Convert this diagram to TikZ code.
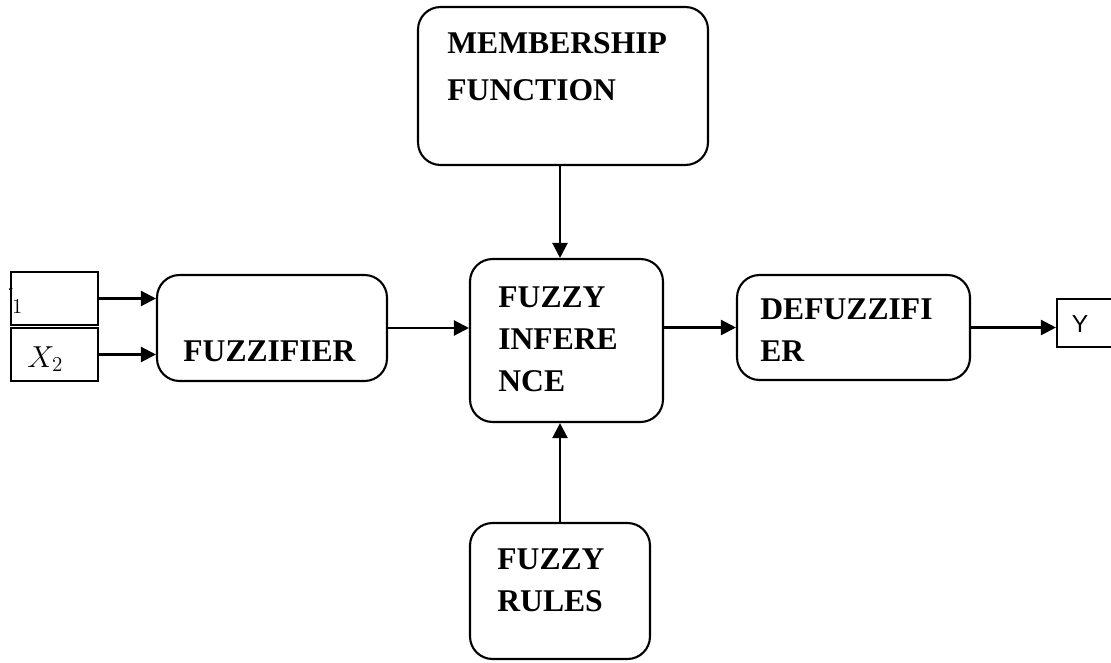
\documentclass[tikz,border=0pt]{standalone}
\usepackage{fontspec}
\setmainfont{Liberation Serif}
\newfontfamily\arialfont{Liberation Sans}
\usetikzlibrary{arrows.meta,positioning}
\tikzset{
  block/.style={draw, rounded corners=0.45cm, line width=1.2pt, inner sep=0pt},
  inbox/.style={draw, line width=1.2pt, minimum width=1.74cm, minimum height=1.06cm, inner sep=0pt},
  blocktext/.style={anchor=north west, inner sep=0pt, align=left, font=\fontsize{18}{24}\selectfont\bfseries},
  intext/.style={anchor=base west, inner sep=0pt, font=\fontsize{17}{19}\selectfont},
  flow/.style={-{Triangle[length=3mm, width=3mm]}, line width=1.3pt}
}

\begin{document}
\begin{tikzpicture}[x=0.02cm,y=-0.02cm]
  \useasboundingbox (0,0) rectangle (1111,662);

  % blocks
  \node[block, minimum width=5.8cm, minimum height=3.16cm] (member) at (563,86) {};
  \node[block, minimum width=3.86cm, minimum height=3.26cm] (infer) at (566.5,340.5) {};
  \node[block, minimum width=4.6cm, minimum height=2.12cm] (fuzz) at (272,328) {};
  \node[block, minimum width=4.66cm, minimum height=2.1cm] (defuzz) at (853.5,327.5) {};
  \node[block, minimum width=3.6cm, minimum height=2.72cm] (rules) at (560,591) {};

  \node[blocktext, font=\fontsize{18}{26.7}\selectfont\bfseries] (membertext) at (447,32) {MEMBERSHIP\\FUNCTION};
  \node[blocktext] (infertext) at (498,286) {FUZZY\\INFERE\\NCE};
  \node[blocktext] (fuzztext) at (183,340) {FUZZIFIER};
  \node[blocktext] (defuzztext) at (760,298) {DEFUZZIFI\\ER};
  \node[blocktext] (rulestext) at (497,548) {FUZZY\\RULES};

  % inputs and output
  \node[inbox] (xone) at (54.5,298.5) {};
  \node[inbox] (xtwo) at (54.5,354.5) {};
  \begin{scope}
    \clip (xone.south west) rectangle (xone.north east);
    \node[intext] (xonetext) at (-13,309) {$X_1$};
  \end{scope}
  \node[intext] (xtwotext) at (27,367) {$X_2$};
  \node[draw, line width=1.2pt, minimum width=1.4cm, minimum height=0.96cm, inner sep=0pt] (ybox) at (1092,323) {};
  \node[inner sep=0pt, font=\arialfont\fontsize{14}{16}\selectfont] (ytext) at (1080,324) {Y};

  % connectors
  \draw[flow] (xone.east) -- (xone.east -| fuzz.west);
  \draw[flow] (xtwo.east) -- (xtwo.east -| fuzz.west);
  \draw[flow] (fuzz.east) -- (fuzz.east -| infer.west);
  \draw[flow] (defuzz.west -| infer.east) -- (defuzz.west);
  \draw[flow] (defuzz.east) -- (defuzz.east -| ybox.west);
  \draw[flow] (member.south -| rules.north) -- (infer.north -| rules.north);
  \draw[flow] (rules.north) -- (rules.north |- infer.south);
\end{tikzpicture}
\end{document}
